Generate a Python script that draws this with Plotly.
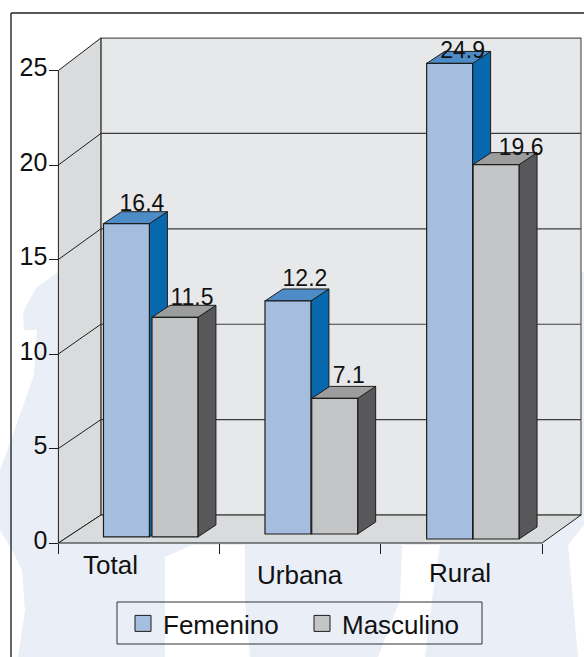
import plotly.graph_objects as go

# ---------- data ----------
categories = ["Total", "Urbana", "Rural"]
femenino = [16.4, 12.2, 24.9]
masculino = [11.5, 7.1, 19.6]
y_ticks = [0, 5, 10, 15, 20, 25]
series_names = ["Femenino", "Masculino"]

# ---------- style ----------
W, H = 584, 657
FONT = "Liberation Sans"
INK = "#1d1d1b"
FEM = dict(front="#A5BDDF", side="#0768AE", top="#4E8CC8")
MAS = dict(front="#C4C5C7", side="#58585A", top="#9C9D9F")
WALL_BACK, WALL_SIDE, PALE = "#E7E8EA", "#DADBDD", "#E9EEF7"
PX_X = 161.2            # pixels per category
X0_PX = 139.0           # pixel of category 0
PX_Y1, ZERO1 = 18.9, 543.0   # front-plane value axis
PX_Y2, ZERO2 = 19.1, 536.0   # bar-plane value axis
xr = [-X0_PX / PX_X, (W - X0_PX) / PX_X]
y1r = [-(H - ZERO1) / PX_Y1, ZERO1 / PX_Y1]
y2r = [-(H - ZERO2) / PX_Y2, ZERO2 / PX_Y2]
BAR_W = 0.285
FEM_OFF = [-0.078, -0.076, -0.073]
MAS_OFF = [0.223, 0.214, 0.215]
GROUP_BASE = [-0.05, 0.105, -0.157]
DEPTH_X, DEPTH_Y = 18 / PX_X, 12 / PX_Y2
WALL_DX, WALL_DXR = 42.5 / PX_X, 39 / PX_X
BACK_Y0, BACK_K = 1.48, 1.0095
LEFT, RIGHT = -0.5, 2.5
LABEL_DX_FEM = [15.5 / PX_X, 17 / PX_X, 13 / PX_X]
LABEL_DX_MAS = [17 / PX_X, 14 / PX_X, 25 / PX_X]
LABEL_DY_FEM = [-0.26, -0.16, -0.67]
LABEL_DY_MAS = [-0.26, -0.1, -0.42]
CAT_LABEL_PX = [(110, 565), (300, 575), (460, 573)]


def back_y(v):
    return BACK_Y0 + BACK_K * v


def path(points):
    return "M" + " L".join(f"{x:.4f},{y:.4f}" for x, y in points) + " Z"


def poly_px(points, color):
    pts = [(x / W, 1 - y / H) for x, y in points]
    return dict(type="path", xref="paper", yref="paper", path=path(pts),
                fillcolor=color, line=dict(width=0), layer="below")


shapes = []
# pale watermark behind the chart
shapes.append(poly_px([(0, 345), (23, 310), (35, 288), (58, 272), (300, 272), (584, 272),
                       (584, 657), (0, 657)], PALE))
for white in (
    [(0, 272), (58, 272), (36, 288), (23, 312), (24, 330), (37, 330), (34, 375), (18, 420), (11, 440), (0, 470)],
    [(0, 530), (12, 550), (22, 570), (25, 610), (18, 657), (0, 657)],
    [(192, 545), (245, 545), (245, 600), (250, 657), (165, 657), (165, 557)],
    [(402, 545), (440, 545), (432, 600), (425, 657), (378, 657), (400, 600)],
    [(568, 545), (584, 525), (584, 657), (578, 657)],
):
    shapes.append(poly_px(white, "#FFFFFF"))
# frame
shapes.append(dict(type="line", xref="paper", yref="paper", x0=11 / W, x1=1, y0=1 - 13 / H, y1=1 - 13 / H,
                   line=dict(color="#58585A", width=2), layer="below"))
shapes.append(dict(type="line", xref="paper", yref="paper", x0=11 / W, x1=11 / W, y0=0, y1=1 - 13 / H,
                   line=dict(color="#333333", width=1.5), layer="below"))
# legend box
shapes.append(dict(type="rect", xref="paper", yref="paper", x0=117 / W, x1=482 / W, y0=1 - 644 / H, y1=1 - 602 / H,
                   line=dict(color="#333333", width=1), fillcolor="rgba(0,0,0,0)", layer="below"))


def data_poly(points, color, yref="y", lw=1.0, lc=INK):
    return dict(type="path", xref="x", yref=yref, path=path(points), fillcolor=color,
                line=dict(color=lc, width=lw), layer="below")


top_v = y_ticks[-1]
# back wall, side wall, floor
shapes.append(data_poly([(LEFT + WALL_DX, back_y(0)), (LEFT + WALL_DX, back_y(top_v)),
                         (RIGHT + WALL_DXR, back_y(top_v)), (RIGHT + WALL_DXR, back_y(0))],
                        WALL_BACK, lc="#58585A", lw=1.2))
shapes.append(data_poly([(LEFT, 0), (LEFT, top_v), (LEFT + WALL_DX, back_y(top_v)), (LEFT + WALL_DX, back_y(0))],
                        WALL_SIDE))
shapes.append(data_poly([(LEFT, 0), (LEFT + WALL_DX, back_y(0)), (RIGHT + WALL_DXR, back_y(0)), (RIGHT, 0)],
                        WALL_SIDE))
for v in y_ticks[1:-1]:
    shapes.append(dict(type="line", xref="x", yref="y", x0=LEFT, y0=v, x1=LEFT + WALL_DX, y1=back_y(v),
                       line=dict(color=INK, width=1), layer="below"))
    shapes.append(dict(type="line", xref="x", yref="y", x0=LEFT + WALL_DX, y0=back_y(v),
                       x1=RIGHT + WALL_DXR, y1=back_y(v), line=dict(color="#3c3c3c", width=1.2), layer="below"))


def faces(i, value, off, col):
    xl = i + off - BAR_W / 2
    xr_ = i + off + BAR_W / 2
    b = GROUP_BASE[i]
    t = b + value
    return [
        data_poly([(xr_, b), (xr_ + DEPTH_X, b + DEPTH_Y), (xr_ + DEPTH_X, t + DEPTH_Y), (xr_, t)],
                  col["side"], yref="y2"),
        data_poly([(xl, t), (xl + DEPTH_X, t + DEPTH_Y), (xr_ + DEPTH_X, t + DEPTH_Y), (xr_, t)],
                  col["top"], yref="y2"),
    ]


for i in range(len(categories)):
    shapes += faces(i, femenino[i], FEM_OFF[i], FEM)
    shapes += faces(i, masculino[i], MAS_OFF[i], MAS)

fig = go.Figure()
for vals, off, col in ((femenino, FEM_OFF, FEM), (masculino, MAS_OFF, MAS)):
    fig.add_trace(go.Bar(
        x=[i + off[i] for i in range(len(vals))], y=vals, base=GROUP_BASE, width=BAR_W,
        marker=dict(color=col["front"], line=dict(color=INK, width=1.2)),
        yaxis="y2", showlegend=False, hoverinfo="skip"))

# data labels
for vals, off, ldx, ldy in ((femenino, FEM_OFF, LABEL_DX_FEM, LABEL_DY_FEM),
                            (masculino, MAS_OFF, LABEL_DX_MAS, LABEL_DY_MAS)):
    fig.add_trace(go.Scatter(
        x=[i + off[i] + ldx[i] for i in range(len(vals))],
        y=[GROUP_BASE[i] + vals[i] + DEPTH_Y + ldy[i] for i in range(len(vals))],
        text=[f"{v:.1f}" for v in vals], mode="text", textposition="top center",
        textfont=dict(family=FONT, size=23, color="#111111"),
        yaxis="y2", showlegend=False, hoverinfo="skip"))

# legend entries
for name, col in zip(series_names, (FEM, MAS)):
    fig.add_trace(go.Scatter(
        x=[None], y=[None], mode="markers", name=name,
        marker=dict(symbol="square", size=16, color=col["front"], line=dict(color=INK, width=1))))

annotations = [
    dict(text=c, x=(px - X0_PX) / PX_X, y=(ZERO1 - py) / PX_Y1, xref="x", yref="y", showarrow=False,
         font=dict(family=FONT, size=26, color="#111111"))
    for c, (px, py) in zip(categories, CAT_LABEL_PX)
]

fig.update_layout(
    width=W, height=H, autosize=False,
    margin=dict(l=0, r=0, t=0, b=0, pad=0),
    paper_bgcolor="#FFFFFF", plot_bgcolor="rgba(0,0,0,0)",
    barmode="overlay", shapes=shapes, annotations=annotations,
    font=dict(family=FONT, color="#111111"),
    xaxis=dict(range=xr, domain=[0, 1], anchor="free", position=(H - ZERO1) / H, showgrid=False, zeroline=False,
               tickmode="array", tickvals=[-0.5, 0.5, 1.5, 2.5], showticklabels=False,
               ticks="outside", ticklen=10, tickcolor=INK, tickwidth=1, showline=False),
    yaxis=dict(range=y1r, domain=[0, 1], anchor="free", position=(X0_PX + LEFT * PX_X) / W, showgrid=False,
               zeroline=False, tickmode="array", tickvals=y_ticks, ticks="outside", ticklen=9, tickcolor=INK,
               tickwidth=1, tickfont=dict(family=FONT, size=25, color="#111111"), showline=False,
               ticklabelstandoff=-3, ticklabelshift=-3),
    yaxis2=dict(range=y2r, domain=[0, 1], overlaying="y", visible=False),
    legend=dict(orientation="h", x=123 / W, y=1 - 600 / H, xanchor="left", yanchor="top",
                bgcolor="rgba(0,0,0,0)", borderwidth=0,
                font=dict(family=FONT, size=26, color="#111111"), itemwidth=30, tracegroupgap=0,
                entrywidth=134, entrywidthmode="pixels"),
)
fig.write_html("out.html", config=dict(displayModeBar=False),
               post_script="document.body.style.margin='0';document.body.style.overflow='hidden';")
